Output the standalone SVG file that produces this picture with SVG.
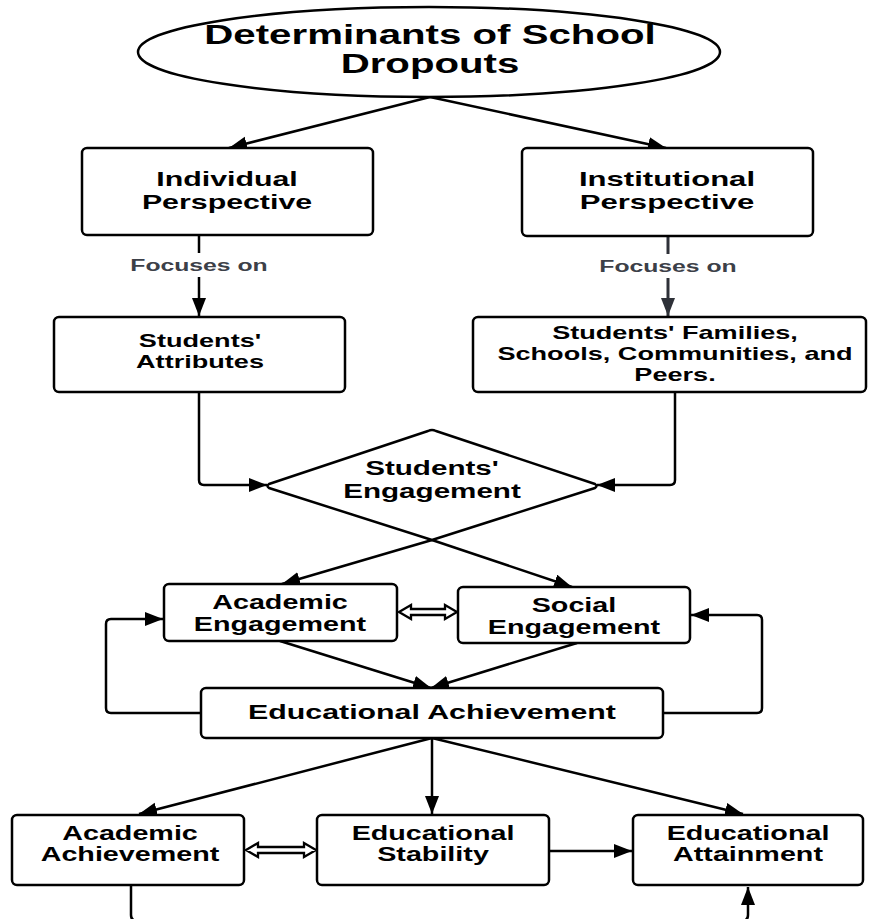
<svg xmlns="http://www.w3.org/2000/svg" width="869" height="919" viewBox="0 0 869 919">
<style>
.box{fill:#fff;stroke:#000;stroke-width:2.5}
.ln{fill:none;stroke:#000;stroke-width:2.5}
.ln2{fill:none;stroke:#2e3138;stroke-width:3}
.t{font-family:"Liberation Sans",Arial,sans-serif;font-weight:bold;fill:#000;text-anchor:middle}
.lbl{font-family:"Liberation Sans",Arial,sans-serif;font-weight:bold;fill:#3c4048;text-anchor:middle;font-size:16.5px}
.dbl{fill:#fff;stroke:#000;stroke-width:2.3}
</style>
<defs>
<marker id="ah" markerUnits="userSpaceOnUse" markerWidth="19" markerHeight="15" refX="18" refY="7" orient="auto">
<path d="M0,0 L18,7 L0,14 z" fill="#000"/>
</marker>
<marker id="ah2" markerUnits="userSpaceOnUse" markerWidth="19" markerHeight="15" refX="18" refY="7" orient="auto">
<path d="M0,0 L18,7 L0,14 z" fill="#2e3138"/>
</marker>
</defs>

<g id="connectors">
<line class="ln" x1="430" y1="97" x2="229" y2="148" marker-end="url(#ah)"/>
<line class="ln" x1="430" y1="97" x2="666" y2="148" marker-end="url(#ah)"/>
<line class="ln" x1="199" y1="235" x2="199" y2="253"/>
<line class="ln" x1="199" y1="277" x2="199" y2="316" marker-end="url(#ah)"/>
<text class="lbl" transform="translate(199,0) scale(1.5,1)" y="271">Focuses on</text>
<line class="ln2" x1="668" y1="236" x2="668" y2="254"/>
<line class="ln2" x1="668" y1="278" x2="668" y2="316" marker-end="url(#ah2)"/>
<text class="lbl" transform="translate(668,0) scale(1.5,1)" y="272">Focuses on</text>
<path class="ln" d="M199,392 V480 Q199,485 204,485 H267" marker-end="url(#ah)"/>
<path class="ln" d="M675,392 V480 Q675,485 670,485 H597" marker-end="url(#ah)"/>
<line class="ln" x1="432" y1="540" x2="282" y2="584" marker-end="url(#ah)"/>
<line class="ln" x1="432" y1="540" x2="572" y2="587" marker-end="url(#ah)"/>
<path class="dbl" d="M399,612 L411,605 L411,609 L445,609 L445,605 L457,612 L445,619 L445,615 L411,615 L411,619 Z"/>
<line class="ln" x1="280" y1="641" x2="431" y2="688" marker-end="url(#ah)"/>
<line class="ln" x1="577" y1="643" x2="431" y2="688" marker-end="url(#ah)"/>
<path class="ln" d="M201,713 H111 Q106,713 106,708 V624 Q106,619 111,619 H163" marker-end="url(#ah)"/>
<path class="ln" d="M663,713 H757 Q762,713 762,708 V620 Q762,615 757,615 H691" marker-end="url(#ah)"/>
<line class="ln" x1="432" y1="738" x2="139" y2="814" marker-end="url(#ah)"/>
<line class="ln" x1="432" y1="738" x2="432" y2="814" marker-end="url(#ah)"/>
<line class="ln" x1="432" y1="738" x2="743" y2="814" marker-end="url(#ah)"/>
<path class="dbl" d="M246,850 L258,843 L258,847 L304,847 L304,843 L316,850 L304,857 L304,853 L258,853 L258,857 Z"/>
<line class="ln" x1="549" y1="851" x2="632" y2="851" marker-end="url(#ah)"/>
<path class="ln" d="M131,885 V915 Q131,921 137,921 H742 Q748,921 748,915 V887" marker-end="url(#ah)"/>
</g>

<g id="title">
<ellipse class="box" cx="429" cy="52" rx="291" ry="45"/>
<text class="t" font-size="27" transform="translate(430,0) scale(1.49,1)"><tspan x="0" y="44">Determinants of School</tspan><tspan x="0" y="73">Dropouts</tspan></text>
</g>

<g id="individual">
<rect class="box" x="82" y="148" width="291" height="87" rx="5"/>
<text class="t" font-size="20.5" transform="translate(227,0) scale(1.48,1)"><tspan x="0" y="186">Individual</tspan><tspan x="0" y="209">Perspective</tspan></text>
</g>

<g id="institutional">
<rect class="box" x="522" y="148" width="291" height="88" rx="5"/>
<text class="t" font-size="21" transform="translate(667,0) scale(1.48,1)"><tspan x="0" y="186">Institutional</tspan><tspan x="0" y="209">Perspective</tspan></text>
</g>

<g id="attributes">
<rect class="box" x="54" y="317" width="291" height="75" rx="5"/>
<text class="t" font-size="18.3" transform="translate(200,0) scale(1.48,1)"><tspan x="0" y="347">Students'</tspan><tspan x="0" y="368">Attributes</tspan></text>
</g>

<g id="families">
<rect class="box" x="473" y="317" width="393" height="75" rx="5"/>
<text class="t" font-size="18.3" transform="translate(675,0) scale(1.48,1)"><tspan x="0" y="339">Students' Families,</tspan><tspan x="0" y="360">Schools, Communities, and</tspan><tspan x="0" y="381">Peers.</tspan></text>
</g>

<g id="engagement">
<path class="box" d="M428,431 Q432,429 436,431 L595,484 Q598,486 595,488 L432,540 L269,488 Q266,486 269,484 Z" stroke-linejoin="round"/>
<text class="t" font-size="20" transform="translate(432,0) scale(1.48,1)"><tspan x="0" y="475">Students'</tspan><tspan x="0" y="498">Engagement</tspan></text>
</g>

<g id="academic-engagement">
<rect class="box" x="164" y="584" width="233" height="57" rx="5"/>
<text class="t" font-size="19.4" transform="translate(280,0) scale(1.48,1)"><tspan x="0" y="609">Academic</tspan><tspan x="0" y="631">Engagement</tspan></text>
</g>

<g id="social-engagement">
<rect class="box" x="458" y="587" width="232" height="56" rx="5"/>
<text class="t" font-size="19.4" transform="translate(574,0) scale(1.48,1)"><tspan x="0" y="612">Social</tspan><tspan x="0" y="634">Engagement</tspan></text>
</g>

<g id="educational-achievement">
<rect class="box" x="201" y="688" width="462" height="50" rx="5"/>
<text class="t" font-size="20.5" transform="translate(432,0) scale(1.48,1)" y="719">Educational Achievement</text>
</g>

<g id="academic-achievement">
<rect class="box" x="12" y="815" width="232" height="70" rx="5"/>
<text class="t" font-size="19.4" transform="translate(130,0) scale(1.48,1)"><tspan x="0" y="840">Academic</tspan><tspan x="0" y="861">Achievement</tspan></text>
</g>

<g id="educational-stability">
<rect class="box" x="317" y="815" width="232" height="70" rx="5"/>
<text class="t" font-size="19.4" transform="translate(433,0) scale(1.48,1)"><tspan x="0" y="840">Educational</tspan><tspan x="0" y="861">Stability</tspan></text>
</g>

<g id="educational-attainment">
<rect class="box" x="633" y="815" width="230" height="70" rx="5"/>
<text class="t" font-size="19.4" transform="translate(748,0) scale(1.48,1)"><tspan x="0" y="840">Educational</tspan><tspan x="0" y="861">Attainment</tspan></text>
</g>
</svg>
